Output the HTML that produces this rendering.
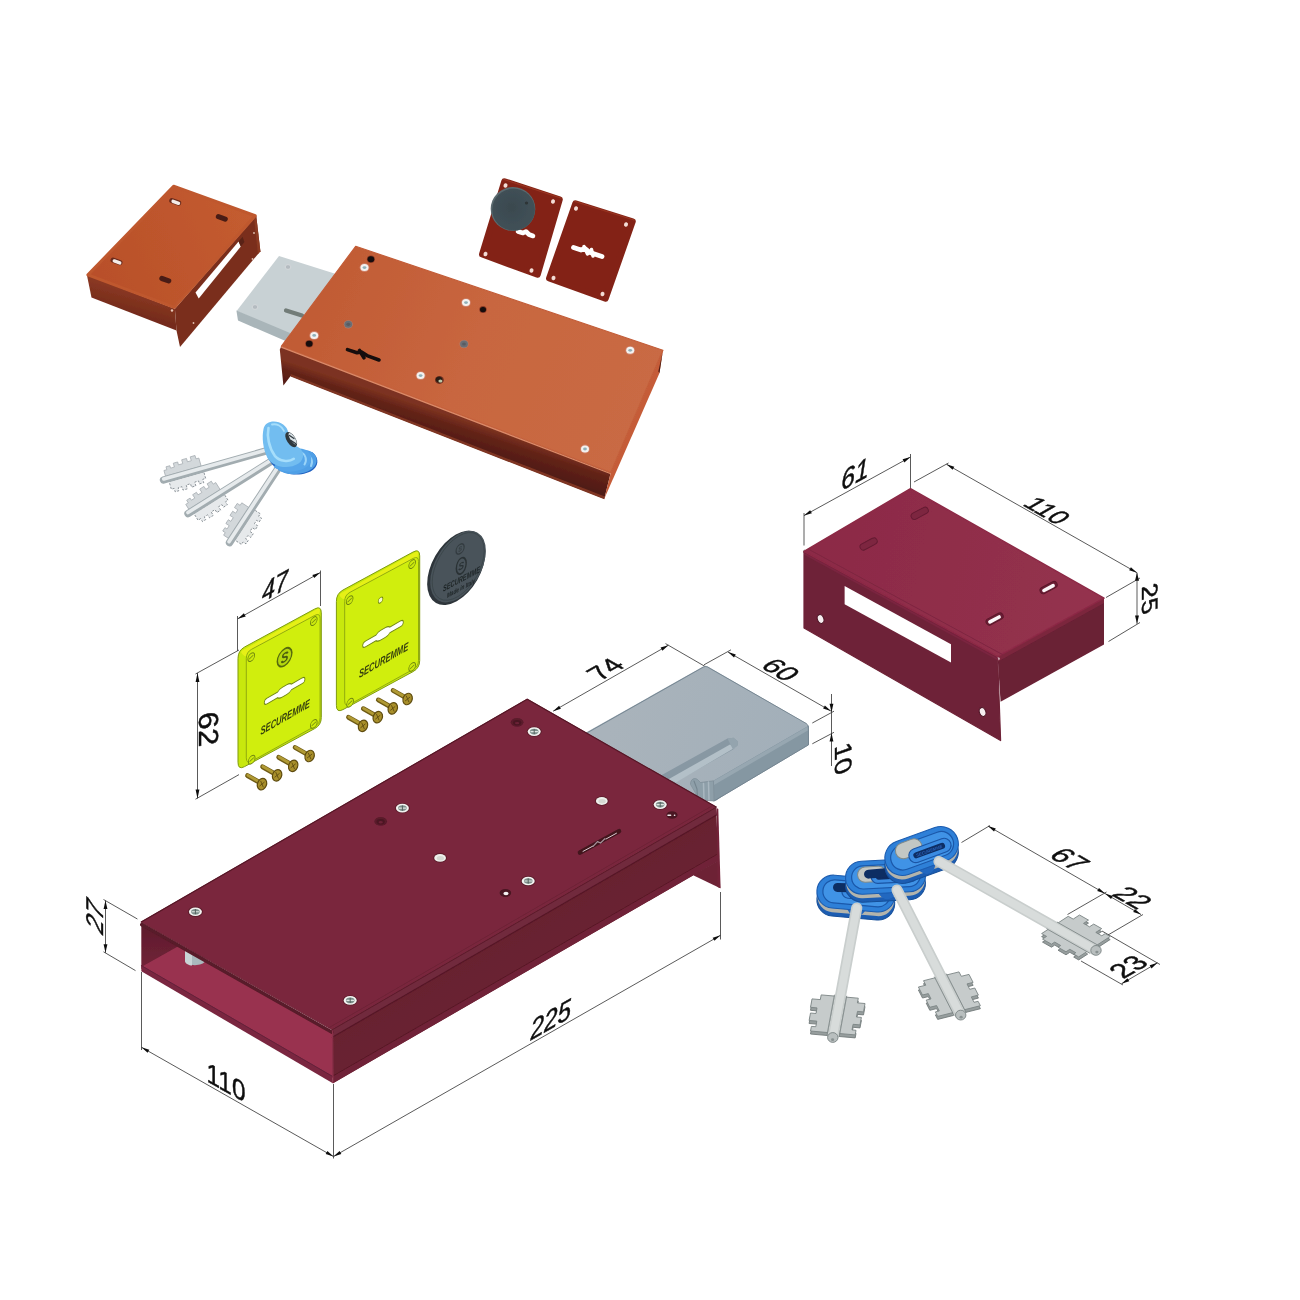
<!DOCTYPE html>
<html lang="it"><head><meta charset="utf-8"><title>Serratura</title>
<style>
html,body{margin:0;padding:0;background:#fff;}
body{width:1300px;height:1300px;overflow:hidden;font-family:"Liberation Sans",sans-serif;}
svg{display:block;}
svg text{font-family:"Liberation Sans",sans-serif;}
</style></head><body>
<svg width="1300" height="1300" viewBox="0 0 1300 1300">
<defs>

<linearGradient id="gOr" gradientUnits="userSpaceOnUse" x1="300" y1="280" x2="640" y2="420"><stop offset="0" stop-color="#c05a33"/><stop offset="0.5" stop-color="#c8663f"/><stop offset="1" stop-color="#c96a44"/></linearGradient>
<linearGradient id="gOrS" gradientUnits="userSpaceOnUse" x1="100" y1="270" x2="250" y2="210"><stop offset="0" stop-color="#b9502a"/><stop offset="1" stop-color="#c45c30"/></linearGradient>
<linearGradient id="gRedS" gradientUnits="userSpaceOnUse" x1="820" y1="540" x2="1090" y2="600"><stop offset="0" stop-color="#8c2a46"/><stop offset="1" stop-color="#94324e"/></linearGradient>
<radialGradient id="gDisc" cx="0.45" cy="0.45" r="0.7"><stop offset="0" stop-color="#3a494f"/><stop offset="1" stop-color="#43535a"/></radialGradient>
<linearGradient id="gBolt" gradientUnits="userSpaceOnUse" x1="620" y1="700" x2="800" y2="760"><stop offset="0" stop-color="#a9b3bb"/><stop offset="1" stop-color="#a2afb9"/></linearGradient>
<linearGradient id="gInner" gradientUnits="userSpaceOnUse" x1="141" y1="925" x2="141" y2="968"><stop offset="0" stop-color="#5e1b2c"/><stop offset="1" stop-color="#712338"/></linearGradient>
<linearGradient id="gFront" gradientUnits="userSpaceOnUse" x1="500" y1="935" x2="527" y2="982"><stop offset="0" stop-color="#67202f"/><stop offset="1" stop-color="#6a2132"/></linearGradient>
<linearGradient id="gOrF" gradientUnits="userSpaceOnUse" x1="440" y1="412" x2="432" y2="436"><stop offset="0" stop-color="#7c3220"/><stop offset="0.35" stop-color="#632318"/><stop offset="1" stop-color="#501a14"/></linearGradient>
<linearGradient id="gOrL" gradientUnits="userSpaceOnUse" x1="130" y1="290" x2="124" y2="312"><stop offset="0" stop-color="#8a3822"/><stop offset="1" stop-color="#742b1b"/></linearGradient>
<filter id="soft" x="-5%" y="-5%" width="110%" height="110%"><feGaussianBlur stdDeviation="0.6"/></filter>
<filter id="soft2" x="-5%" y="-5%" width="110%" height="110%"><feGaussianBlur stdDeviation="0.35"/></filter>

</defs>
<rect width="1300" height="1300" fill="#ffffff"/>
<g id="striker-orange" filter="url(#soft)">
<polygon points="86.9,274.9 174.9,308.8 176.5,330.5 91.5,297.5" fill="url(#gOrL)" stroke="none" stroke-width="0" stroke-linejoin="round" />
<polygon points="174.9,308.8 256.2,215.7 260.4,251.2 180.0,347.0 176.5,330.5" fill="#7a2f1d" stroke="none" stroke-width="0" stroke-linejoin="round" />
<polygon points="256.2,215.7 260.4,251.2 258.0,254.0 254.2,219.0" fill="#8c3a24" stroke="none" stroke-width="0" stroke-linejoin="round" />
<polygon points="173.6,186.2 255.2,215.7 174.4,307.3 87.9,274.9" fill="url(#gOrS)" stroke="#bf582f" stroke-width="3" stroke-linejoin="round" />
<polygon points="195.5,292.6 238.6,241.4 240.8,246.5 198.7,298.6" fill="#ffffff" stroke="none" stroke-width="0" stroke-linejoin="round" />
<polygon points="238.6,241.4 242.5,236.8 244.5,242.0 240.8,246.5" fill="#5a2418" stroke="none" stroke-width="0" stroke-linejoin="round" />
<ellipse cx="254.0" cy="233.0" rx="0.9" ry="0.9" fill="#e0c0b0" stroke="none" stroke-width="0" transform="rotate(0 254.0 233.0)" />
<ellipse cx="252.5" cy="259.0" rx="0.9" ry="0.9" fill="#e0c0b0" stroke="none" stroke-width="0" transform="rotate(0 252.5 259.0)" />
<ellipse cx="193.5" cy="323.0" rx="0.9" ry="0.9" fill="#e0c0b0" stroke="none" stroke-width="0" transform="rotate(0 193.5 323.0)" />
<ellipse cx="172.0" cy="310.5" rx="1.2" ry="1.2" fill="#e8c8b8" stroke="none" stroke-width="0" transform="rotate(0 172.0 310.5)" />
<rect x="169.0" y="199.2" width="12.4" height="5.2" rx="2.6" fill="#6a2a1a" transform="rotate(20 175.2 201.8)"/>
<rect x="171.2" y="200.6" width="9.2" height="3.4" rx="1.7" fill="#f4ece8" transform="rotate(20 175.8 202.3)"/>
<rect x="215.6" y="215.3" width="12.4" height="5.2" rx="2.6" fill="#4a1c12" transform="rotate(20 221.8 217.9)"/>
<rect x="110.3" y="258.8" width="12.4" height="5.2" rx="2.6" fill="#6a2a1a" transform="rotate(20 116.5 261.4)"/>
<rect x="112.4" y="260.2" width="9.2" height="3.4" rx="1.7" fill="#f4ece8" transform="rotate(20 117.0 261.9)"/>
<rect x="159.1" y="277.1" width="12.4" height="5.2" rx="2.6" fill="#4a1c12" transform="rotate(20 165.3 279.7)"/>
</g>
<g id="lock-orange" filter="url(#soft)">
<polygon points="279.0,256.0 336.0,274.0 290.0,334.0 236.6,311.0" fill="#c8d1d4" stroke="none" stroke-width="0" stroke-linejoin="round" />
<polygon points="236.4,310.5 290.0,333.0 289.0,342.5 238.0,320.5" fill="#a9b5b9" stroke="none" stroke-width="0" stroke-linejoin="round" />
<ellipse cx="288.0" cy="267.0" rx="2.8" ry="2.4" fill="#b4bbc0" stroke="#d9dde0" stroke-width="0.8" transform="rotate(0 288.0 267.0)" />
<ellipse cx="255.0" cy="307.0" rx="2.8" ry="2.4" fill="#b4bbc0" stroke="#d9dde0" stroke-width="0.8" transform="rotate(0 255.0 307.0)" />
<path d="M286,310.5 L302,315.5" fill="none" stroke="#727c78" stroke-width="4.2" stroke-linejoin="round" stroke-linecap="round" />
<polygon points="281.3,346.3 610.8,472.5 604.3,498.8 290.6,376.0 283.4,385.4 279.8,349.5" fill="url(#gOrF)" stroke="none" stroke-width="0" stroke-linejoin="round" />
<polygon points="290.6,374.0 604.8,496.6 604.3,499.2 290.6,376.6" fill="#7f3524" stroke="none" stroke-width="0" stroke-linejoin="round" />
<polygon points="610.8,472.5 662.9,350.3 659.5,373.0 604.3,498.8" fill="#c55c38" stroke="none" stroke-width="0" stroke-linejoin="round" />
<polygon points="662.0,355.0 662.9,350.8 659.5,373.0 658.3,371.5" fill="#4e1d14" stroke="none" stroke-width="0" stroke-linejoin="round" />
<polygon points="355.7,246.3 662.9,350.3 610.8,472.5 281.3,346.3" fill="url(#gOr)" stroke="#c35d38" stroke-width="1.2" stroke-linejoin="round" />
<path d="M281.8,347.3 L610.3,473.5" fill="none" stroke="#dc8a68" stroke-width="1.3" stroke-linejoin="round" stroke-linecap="round" />
<ellipse cx="370.9" cy="259.2" rx="4.0" ry="3.7" fill="#8a3a26" stroke="none" stroke-width="0" transform="rotate(0 370.9 259.2)" />
<ellipse cx="370.9" cy="259.2" rx="3.3" ry="3.0" fill="#140b0a" stroke="none" stroke-width="0" transform="rotate(0 370.9 259.2)" />
<ellipse cx="364.5" cy="267.6" rx="4.9" ry="4.4" fill="#d0826a" stroke="none" stroke-width="0" transform="rotate(0 364.5 267.6)" />
<ellipse cx="364.5" cy="267.6" rx="4.0" ry="3.5" fill="#f3f2f0" stroke="none" stroke-width="0" transform="rotate(0 364.5 267.6)" />
<ellipse cx="364.5" cy="267.6" rx="1.9" ry="1.4" fill="#8fb0b8" stroke="none" stroke-width="0" transform="rotate(0 364.5 267.6)" />
<ellipse cx="466.0" cy="302.6" rx="4.9" ry="4.4" fill="#d0826a" stroke="none" stroke-width="0" transform="rotate(0 466.0 302.6)" />
<ellipse cx="466.0" cy="302.6" rx="4.0" ry="3.5" fill="#f3f2f0" stroke="none" stroke-width="0" transform="rotate(0 466.0 302.6)" />
<ellipse cx="466.0" cy="302.6" rx="1.9" ry="1.4" fill="#8fb0b8" stroke="none" stroke-width="0" transform="rotate(0 466.0 302.6)" />
<ellipse cx="483.0" cy="309.6" rx="3.7" ry="3.5" fill="#8a3a26" stroke="none" stroke-width="0" transform="rotate(0 483.0 309.6)" />
<ellipse cx="483.0" cy="309.6" rx="3.0" ry="2.7" fill="#140b0a" stroke="none" stroke-width="0" transform="rotate(0 483.0 309.6)" />
<ellipse cx="348.3" cy="324.3" rx="4.5" ry="4.1" fill="#b08070" stroke="none" stroke-width="0" transform="rotate(0 348.3 324.3)" />
<ellipse cx="348.3" cy="324.3" rx="3.9" ry="3.5" fill="#6a6e74" stroke="none" stroke-width="0" transform="rotate(0 348.3 324.3)" />
<ellipse cx="348.3" cy="324.3" rx="1.9" ry="1.6" fill="#585c62" stroke="none" stroke-width="0" transform="rotate(0 348.3 324.3)" />
<ellipse cx="314.2" cy="335.4" rx="4.9" ry="4.4" fill="#d0826a" stroke="none" stroke-width="0" transform="rotate(0 314.2 335.4)" />
<ellipse cx="314.2" cy="335.4" rx="4.0" ry="3.5" fill="#f3f2f0" stroke="none" stroke-width="0" transform="rotate(0 314.2 335.4)" />
<ellipse cx="314.2" cy="335.4" rx="1.9" ry="1.4" fill="#8fb0b8" stroke="none" stroke-width="0" transform="rotate(0 314.2 335.4)" />
<ellipse cx="309.2" cy="343.7" rx="4.0" ry="3.7" fill="#8a3a26" stroke="none" stroke-width="0" transform="rotate(0 309.2 343.7)" />
<ellipse cx="309.2" cy="343.7" rx="3.3" ry="3.0" fill="#140b0a" stroke="none" stroke-width="0" transform="rotate(0 309.2 343.7)" />
<ellipse cx="464.0" cy="344.0" rx="4.5" ry="4.1" fill="#b08070" stroke="none" stroke-width="0" transform="rotate(0 464.0 344.0)" />
<ellipse cx="464.0" cy="344.0" rx="3.9" ry="3.5" fill="#6a6e74" stroke="none" stroke-width="0" transform="rotate(0 464.0 344.0)" />
<ellipse cx="464.0" cy="344.0" rx="1.9" ry="1.6" fill="#585c62" stroke="none" stroke-width="0" transform="rotate(0 464.0 344.0)" />
<ellipse cx="420.6" cy="375.6" rx="4.9" ry="4.4" fill="#d0826a" stroke="none" stroke-width="0" transform="rotate(0 420.6 375.6)" />
<ellipse cx="420.6" cy="375.6" rx="4.0" ry="3.5" fill="#f3f2f0" stroke="none" stroke-width="0" transform="rotate(0 420.6 375.6)" />
<ellipse cx="420.6" cy="375.6" rx="1.9" ry="1.4" fill="#8fb0b8" stroke="none" stroke-width="0" transform="rotate(0 420.6 375.6)" />
<ellipse cx="630.2" cy="350.3" rx="4.9" ry="4.4" fill="#d0826a" stroke="none" stroke-width="0" transform="rotate(0 630.2 350.3)" />
<ellipse cx="630.2" cy="350.3" rx="4.0" ry="3.5" fill="#f3f2f0" stroke="none" stroke-width="0" transform="rotate(0 630.2 350.3)" />
<ellipse cx="630.2" cy="350.3" rx="1.9" ry="1.4" fill="#8fb0b8" stroke="none" stroke-width="0" transform="rotate(0 630.2 350.3)" />
<ellipse cx="585.0" cy="449.0" rx="4.9" ry="4.4" fill="#d0826a" stroke="none" stroke-width="0" transform="rotate(0 585.0 449.0)" />
<ellipse cx="585.0" cy="449.0" rx="4.0" ry="3.5" fill="#f3f2f0" stroke="none" stroke-width="0" transform="rotate(0 585.0 449.0)" />
<ellipse cx="585.0" cy="449.0" rx="1.9" ry="1.4" fill="#8fb0b8" stroke="none" stroke-width="0" transform="rotate(0 585.0 449.0)" />
<ellipse cx="439.4" cy="380.0" rx="4.4" ry="3.9" fill="#6a3020" stroke="none" stroke-width="0" transform="rotate(0 439.4 380.0)" />
<ellipse cx="439.0" cy="379.6" rx="3.2" ry="2.8" fill="#2a1a12" stroke="none" stroke-width="0" transform="rotate(0 439.0 379.6)" />
<ellipse cx="440.4" cy="381.0" rx="2.0" ry="1.6" fill="#b9c7a8" stroke="none" stroke-width="0" transform="rotate(0 440.4 381.0)" />
<path d="M347.5,349.6 L357,352.8 L361.5,352 L367,355.6 L379,360" fill="none" stroke="#160d0c" stroke-width="3.6" stroke-linejoin="round" stroke-linecap="round" />
<path d="M359.5,350.5 L364,357.8" fill="none" stroke="#160d0c" stroke-width="3.6" stroke-linejoin="round" stroke-linecap="round" />
</g>
<g id="escutcheons" filter="url(#soft)">
<polygon points="504.5,181.5 559.5,199.5 537.5,274.5 482.3,254.3" fill="#832416" stroke="#832416" stroke-width="6.5" stroke-linejoin="round" />
<polygon points="575.5,203.5 632.5,221.5 605.5,298.5 549.3,278.3" fill="#832416" stroke="#832416" stroke-width="6.5" stroke-linejoin="round" />
<polygon points="504.0,179.5 561.0,198.0" fill="none" stroke="#9a3422" stroke-width="1.2" stroke-linejoin="round" />
<polygon points="575.0,201.5 634.0,220.0" fill="none" stroke="#9a3422" stroke-width="1.2" stroke-linejoin="round" />
<ellipse cx="505.5" cy="185.5" rx="2.0" ry="2.3" fill="#f3dcd6" stroke="none" stroke-width="0" transform="rotate(15 505.5 185.5)" />
<ellipse cx="553.0" cy="201.5" rx="2.0" ry="2.3" fill="#f3dcd6" stroke="none" stroke-width="0" transform="rotate(15 553.0 201.5)" />
<ellipse cx="485.5" cy="254.0" rx="2.0" ry="2.3" fill="#f3dcd6" stroke="none" stroke-width="0" transform="rotate(15 485.5 254.0)" />
<ellipse cx="531.5" cy="270.5" rx="2.0" ry="2.3" fill="#f3dcd6" stroke="none" stroke-width="0" transform="rotate(15 531.5 270.5)" />
<ellipse cx="576.0" cy="208.5" rx="2.0" ry="2.3" fill="#f3dcd6" stroke="none" stroke-width="0" transform="rotate(15 576.0 208.5)" />
<ellipse cx="626.0" cy="224.5" rx="2.0" ry="2.3" fill="#f3dcd6" stroke="none" stroke-width="0" transform="rotate(15 626.0 224.5)" />
<ellipse cx="553.5" cy="278.0" rx="2.0" ry="2.3" fill="#f3dcd6" stroke="none" stroke-width="0" transform="rotate(15 553.5 278.0)" />
<ellipse cx="602.5" cy="294.0" rx="2.0" ry="2.3" fill="#f3dcd6" stroke="none" stroke-width="0" transform="rotate(15 602.5 294.0)" />
<path d="M518,231.5 L523,233 L526,231.5 L529,234.5 L533,236" fill="none" stroke="#ffffff" stroke-width="4.6" stroke-linejoin="round" stroke-linecap="round" />
<path d="M573.5,247.5 L581,250 L585,248.5 L590,252.5 L602,256.5" fill="none" stroke="#ffffff" stroke-width="4.8" stroke-linejoin="round" stroke-linecap="round" />
<path d="M584,246.5 L587.5,254 M591.5,249.5 L593,256" fill="none" stroke="#ffffff" stroke-width="3.4" stroke-linejoin="round" stroke-linecap="round" />
<ellipse cx="513.0" cy="209.0" rx="22.3" ry="21.9" fill="#5b6b70" stroke="none" stroke-width="0" transform="rotate(0 513.0 209.0)" />
<ellipse cx="513.6" cy="209.6" rx="21.4" ry="21.0" fill="url(#gDisc)" stroke="none" stroke-width="0" transform="rotate(0 513.6 209.6)" />
<ellipse cx="526.5" cy="203.0" rx="1.6" ry="1.6" fill="#2e3436" stroke="none" stroke-width="0" transform="rotate(0 526.5 203.0)" />
</g>
<g id="keys-small" filter="url(#soft)">
<g transform="translate(163.5 480.0) rotate(-15.8)">
<path d="M3,-3 L3,-9 L6,-9 L6,-12 L10,-12 L10,-9.5 L14,-9.5 L14,-13.5 L18.5,-13.5 L18.5,-10.5 L23,-10.5 L23,-14.5 L28,-14.5 L28,-11 L32,-11 L32,-15 L37,-15 L37,-11.5 L40,-11.5 L40,-3 Z" fill="#d3d8db" stroke="#a3aaaf" stroke-width="0.7"/>
<path d="M5,3 L41,3 L41,10 L38,10 L38,13.5 L33.5,13.5 L33.5,10.5 L29.5,10.5 L29.5,14.5 L25,14.5 L25,11 L20.5,11 L20.5,15 L16,15 L16,11.5 L12,11.5 L12,14.5 L8,14.5 L8,11 L5,11 Z" fill="#e6e9eb" stroke="#7d858b" stroke-width="0.8" stroke-dasharray="2.2 1.5"/>
<path d="M0,0 L108.6,0" stroke="#a2acb0" stroke-width="7.4" stroke-linecap="round" fill="none"/>
<path d="M0.5,-0.9 L108.6,-0.9" stroke="#e6eaec" stroke-width="3.6" stroke-linecap="round" fill="none"/>
</g>
<g transform="translate(188.0 513.6) rotate(-32.2)">
<path d="M3,-3 L3,-9 L6,-9 L6,-12 L10,-12 L10,-9.5 L14,-9.5 L14,-13.5 L18.5,-13.5 L18.5,-10.5 L23,-10.5 L23,-14.5 L28,-14.5 L28,-11 L32,-11 L32,-15 L37,-15 L37,-11.5 L40,-11.5 L40,-3 Z" fill="#d3d8db" stroke="#a3aaaf" stroke-width="0.7"/>
<path d="M5,3 L41,3 L41,10 L38,10 L38,13.5 L33.5,13.5 L33.5,10.5 L29.5,10.5 L29.5,14.5 L25,14.5 L25,11 L20.5,11 L20.5,15 L16,15 L16,11.5 L12,11.5 L12,14.5 L8,14.5 L8,11 L5,11 Z" fill="#e6e9eb" stroke="#7d858b" stroke-width="0.8" stroke-dasharray="2.2 1.5"/>
<path d="M0,0 L100.5,0" stroke="#a2acb0" stroke-width="7.4" stroke-linecap="round" fill="none"/>
<path d="M0.5,-0.9 L100.5,-0.9" stroke="#e6eaec" stroke-width="3.6" stroke-linecap="round" fill="none"/>
</g>
<g transform="translate(229.5 542.6) rotate(-56.8)">
<path d="M3,-3 L3,-9 L6,-9 L6,-12 L10,-12 L10,-9.5 L14,-9.5 L14,-13.5 L18.5,-13.5 L18.5,-10.5 L23,-10.5 L23,-14.5 L28,-14.5 L28,-11 L32,-11 L32,-15 L37,-15 L37,-11.5 L40,-11.5 L40,-3 Z" fill="#d3d8db" stroke="#a3aaaf" stroke-width="0.7"/>
<path d="M5,3 L41,3 L41,10 L38,10 L38,13.5 L33.5,13.5 L33.5,10.5 L29.5,10.5 L29.5,14.5 L25,14.5 L25,11 L20.5,11 L20.5,15 L16,15 L16,11.5 L12,11.5 L12,14.5 L8,14.5 L8,11 L5,11 Z" fill="#e6e9eb" stroke="#7d858b" stroke-width="0.8" stroke-dasharray="2.2 1.5"/>
<path d="M0,0 L90.4,0" stroke="#a2acb0" stroke-width="7.4" stroke-linecap="round" fill="none"/>
<path d="M0.5,-0.9 L90.4,-0.9" stroke="#e6eaec" stroke-width="3.6" stroke-linecap="round" fill="none"/>
</g>
<path d="M266,452 C268,462 276,470 286,473 C296,476 308,474.5 314,469 C319.5,464 318,456 312,452 L300,462 Z" fill="#2263c2" stroke="none" stroke-width="0" stroke-linejoin="round" stroke-linecap="round" />
<path d="M278,470 C288,476.5 304,475 312.5,468.5 C319,463 317.5,454.5 310.5,451.2 C304,448.6 297.5,450.5 292,454.5 Z" fill="#4f9fe6" stroke="none" stroke-width="0" stroke-linejoin="round" stroke-linecap="round" />
<path d="M306,453.5 C311,456 313.5,461 311,466" fill="none" stroke="#9ad4f8" stroke-width="2.0" stroke-linejoin="round" stroke-linecap="round" />
<path d="M273.5,467 C282.5,473.5 298.5,473 307,466.5 C313.5,461.5 312,453 305.5,449.8 C298.5,447 292,449 286.5,452.5 Z" fill="#56a6ea" stroke="none" stroke-width="0" stroke-linejoin="round" stroke-linecap="round" />
<path d="M300.5,451.5 C305.5,454.5 307.5,459.5 304.5,464.5" fill="none" stroke="#9ad4f8" stroke-width="2.0" stroke-linejoin="round" stroke-linecap="round" />
<path d="M263.5,429 C261.8,437 262.8,448.5 267.5,458 C273.5,468 289,469.5 298.5,463.5 C305,459 304.5,450.5 298,447 C292.5,444.5 289.5,440 288.5,433 C287,425 279.5,420.8 272,421.6 C267,422.4 264.5,425 263.5,429 Z" fill="#72bdf0" stroke="none" stroke-width="0" stroke-linejoin="round" stroke-linecap="round" />
<path d="M268.5,428 C266.8,436 268.8,447.5 274.8,455.8 C279.8,461.5 288.8,462.5 293.8,458.8" fill="none" stroke="#a6defb" stroke-width="2.6" stroke-linejoin="round" stroke-linecap="round" />
<path d="M272,424.5 C277,423.5 282,426 284,431" fill="none" stroke="#a6defb" stroke-width="1.8" stroke-linejoin="round" stroke-linecap="round" />
<ellipse cx="291.2" cy="439.6" rx="4.4" ry="8.6" fill="#2f383e" stroke="none" stroke-width="0" transform="rotate(-33 291.2 439.6)" />
<ellipse cx="292.6" cy="438.6" rx="2.3" ry="6.6" fill="#d9e2e6" stroke="none" stroke-width="0" transform="rotate(-33 292.6 438.6)" />
<path d="M289.5,435.5 L294,438.5 M291,440.5 L295.5,443.5" fill="none" stroke="#2f383e" stroke-width="1.3" stroke-linejoin="round" stroke-linecap="round" />
</g>
<g id="plates" filter="url(#soft2)">
<line x1="237.5" y1="651.0" x2="237.5" y2="616.0" stroke="#3c3c3c" stroke-width="0.85" />
<line x1="320.5" y1="606.0" x2="320.5" y2="570.5" stroke="#3c3c3c" stroke-width="0.85" />
<line x1="237.8" y1="618.8" x2="320.3" y2="572.6" stroke="#3c3c3c" stroke-width="0.85" />
<polygon points="237.8,618.8 243.9,613.3 245.7,616.5" fill="#111" stroke="none" stroke-width="0" stroke-linejoin="round" />
<polygon points="320.3,572.6 314.2,578.1 312.4,574.9" fill="#111" stroke="none" stroke-width="0" stroke-linejoin="round" />
<text transform="matrix(0.8746 -0.4848 -0.0000 1.0000 275.0 585.4)" font-size="27" text-anchor="middle" fill="#0c0c0c" font-style="italic" dy="9.7" stroke="#0c0c0c" stroke-width="0.45">47</text>
<line x1="239.0" y1="650.0" x2="195.5" y2="674.0" stroke="#3c3c3c" stroke-width="0.85" />
<line x1="239.0" y1="774.6" x2="195.5" y2="799.2" stroke="#3c3c3c" stroke-width="0.85" />
<line x1="197.5" y1="673.0" x2="197.5" y2="798.4" stroke="#3c3c3c" stroke-width="0.85" />
<polygon points="197.5,673.0 199.4,682.0 195.6,682.0" fill="#111" stroke="none" stroke-width="0" stroke-linejoin="round" />
<polygon points="197.5,798.4 195.6,789.4 199.4,789.4" fill="#111" stroke="none" stroke-width="0" stroke-linejoin="round" />
<text transform="matrix(0.0000 1.1000 -0.9848 0.1736 209.2 728.8)" font-size="28" text-anchor="middle" fill="#0c0c0c" font-style="normal" dy="10.0" stroke="#0c0c0c" stroke-width="0.45">62</text>
<path d="M238.0,658.1 Q238.0,650.6 244.6,647.0 L314.7,609.0 Q321.3,605.4 321.3,612.9 L321.3,717.5 Q321.3,725.0 314.7,728.6 L244.6,766.6 Q238.0,770.2 238.0,762.7 Z" fill="#c8e80c" stroke="#7f9a0c" stroke-width="1.0" stroke-linejoin="round" stroke-linecap="round" />
<path d="M242.2,653.9 Q240.0,651.8 242.6,650.3 L317.2,609.1 Q319.8,607.6 319.8,610.6 L319.8,610.9 Q319.8,613.9 317.2,615.4 L248.1,655.6 Q245.5,657.1 243.3,655.0 Z" fill="#e6f018" stroke="none" stroke-width="0" stroke-linejoin="round" stroke-linecap="round" />
<path d="M246.3,658.1 Q246.3,652.1 251.6,649.3 L314.8,615.4 Q320.1,612.6 320.1,618.6 L320.1,717.4 Q320.1,723.4 314.8,726.3 L251.6,761.3 Q246.3,764.2 246.3,758.2 Z" fill="#d0ee10" stroke="#8aa40e" stroke-width="0.9" stroke-linejoin="round" stroke-linecap="round" />
<g transform="matrix(0.866 -0.5 0 1 238.0 650.6)">
<circle cx="15.3" cy="14.2" r="3.9" fill="#cdea10" stroke="#6f8610" stroke-width="1.0"/>
<path d="M12.9,15.0 L17.7,13.399999999999999" stroke="#6f8610" stroke-width="0.9" fill="none"/>
<circle cx="87.5" cy="14.2" r="3.9" fill="#cdea10" stroke="#6f8610" stroke-width="1.0"/>
<path d="M85.1,15.0 L89.9,13.399999999999999" stroke="#6f8610" stroke-width="0.9" fill="none"/>
<circle cx="15.8" cy="117.0" r="3.9" fill="#cdea10" stroke="#6f8610" stroke-width="1.0"/>
<path d="M13.4,117.8 L18.2,116.2" stroke="#6f8610" stroke-width="0.9" fill="none"/>
<circle cx="87.5" cy="117.0" r="3.9" fill="#cdea10" stroke="#6f8610" stroke-width="1.0"/>
<path d="M85.1,117.8 L89.9,116.2" stroke="#6f8610" stroke-width="0.9" fill="none"/>
<path transform="translate(53.8 67.2)" d="M-23.5,0 C-23.5,-2.6 -22,-2.8 -20,-2.8 L-8,-2.8 C-6.8,-4.2 -4.5,-4.9 -2.5,-4.9 L2.5,-4.9 C4.5,-4.9 6.8,-4.2 8,-2.8 L20,-2.8 C22,-2.8 23.5,-2.6 23.5,0 C23.5,2.6 22,2.8 20,2.8 L8,2.8 C6.8,4.2 4.5,4.9 2.5,4.9 L-2.5,4.9 C-4.5,4.9 -6.8,4.2 -8,2.8 L-20,2.8 C-22,2.8 -23.5,2.6 -23.5,0 Z" fill="#ffffff" stroke="#6f8610" stroke-width="1.0"/>
<text x="54.5" y="97.7" font-size="11.4" font-weight="bold" font-style="italic" text-anchor="middle" fill="#364008" textLength="57" lengthAdjust="spacingAndGlyphs">SECUREMME</text>
<circle cx="53.8" cy="33.5" r="8.4" fill="#b4d808" stroke="#566a0c" stroke-width="1.7"/>
<text x="53.8" y="38.3" font-size="13.5" font-weight="bold" font-style="italic" text-anchor="middle" fill="#4a5c0a">S</text>
</g>
<path d="M336.4,601.1 Q336.4,593.6 343.0,590.0 L413.1,552.0 Q419.7,548.4 419.7,555.9 L419.7,660.5 Q419.7,668.0 413.1,671.6 L343.0,709.6 Q336.4,713.2 336.4,705.7 Z" fill="#c8e80c" stroke="#7f9a0c" stroke-width="1.0" stroke-linejoin="round" stroke-linecap="round" />
<path d="M340.6,596.9 Q338.4,594.8 341.0,593.3 L415.6,552.1 Q418.2,550.6 418.2,553.6 L418.2,553.9 Q418.2,556.9 415.6,558.4 L346.5,598.6 Q343.9,600.1 341.7,598.0 Z" fill="#e6f018" stroke="none" stroke-width="0" stroke-linejoin="round" stroke-linecap="round" />
<path d="M344.7,601.1 Q344.7,595.1 350.0,592.3 L413.2,558.4 Q418.5,555.6 418.5,561.6 L418.5,660.4 Q418.5,666.4 413.2,669.3 L350.0,704.3 Q344.7,707.2 344.7,701.2 Z" fill="#d0ee10" stroke="#8aa40e" stroke-width="0.9" stroke-linejoin="round" stroke-linecap="round" />
<g transform="matrix(0.866 -0.5 0 1 336.4 593.6)">
<circle cx="15.3" cy="14.2" r="3.9" fill="#cdea10" stroke="#6f8610" stroke-width="1.0"/>
<path d="M12.9,15.0 L17.7,13.399999999999999" stroke="#6f8610" stroke-width="0.9" fill="none"/>
<circle cx="87.5" cy="14.2" r="3.9" fill="#cdea10" stroke="#6f8610" stroke-width="1.0"/>
<path d="M85.1,15.0 L89.9,13.399999999999999" stroke="#6f8610" stroke-width="0.9" fill="none"/>
<circle cx="15.8" cy="117.0" r="3.9" fill="#cdea10" stroke="#6f8610" stroke-width="1.0"/>
<path d="M13.4,117.8 L18.2,116.2" stroke="#6f8610" stroke-width="0.9" fill="none"/>
<circle cx="87.5" cy="117.0" r="3.9" fill="#cdea10" stroke="#6f8610" stroke-width="1.0"/>
<path d="M85.1,117.8 L89.9,116.2" stroke="#6f8610" stroke-width="0.9" fill="none"/>
<path transform="translate(53.8 67.2)" d="M-23.5,0 C-23.5,-2.6 -22,-2.8 -20,-2.8 L-8,-2.8 C-6.8,-4.2 -4.5,-4.9 -2.5,-4.9 L2.5,-4.9 C4.5,-4.9 6.8,-4.2 8,-2.8 L20,-2.8 C22,-2.8 23.5,-2.6 23.5,0 C23.5,2.6 22,2.8 20,2.8 L8,2.8 C6.8,4.2 4.5,4.9 2.5,4.9 L-2.5,4.9 C-4.5,4.9 -6.8,4.2 -8,2.8 L-20,2.8 C-22,2.8 -23.5,2.6 -23.5,0 Z" fill="#ffffff" stroke="#6f8610" stroke-width="1.0"/>
<text x="54.5" y="97.7" font-size="11.4" font-weight="bold" font-style="italic" text-anchor="middle" fill="#364008" textLength="57" lengthAdjust="spacingAndGlyphs">SECUREMME</text>
<circle cx="51" cy="32" r="2.7" fill="#f4fad0" stroke="#6f8610" stroke-width="0.9"/>
</g>
<path d="M259.0,782.1 L247.5,775.6" fill="none" stroke="#6e5a14" stroke-width="4.8" stroke-linejoin="round" stroke-linecap="round" />
<path d="M259.0,781.8 L247.8,775.3" fill="none" stroke="#b09a34" stroke-width="2.8" stroke-linejoin="round" stroke-linecap="round" />
<ellipse cx="262.0" cy="784.1" rx="4.5" ry="5.9" fill="#a88f2c" stroke="#5f4c10" stroke-width="1.2" transform="rotate(22 262.0 784.1)" />
<path d="M259.8,785.9 L264.2,782.3 M260.8,781.3 L263.2,786.9" fill="none" stroke="#5f4c10" stroke-width="0.9" stroke-linejoin="round" stroke-linecap="round" />
<path d="M274.1,773.3 L262.6,766.8" fill="none" stroke="#6e5a14" stroke-width="4.8" stroke-linejoin="round" stroke-linecap="round" />
<path d="M274.1,773.0 L262.9,766.5" fill="none" stroke="#b09a34" stroke-width="2.8" stroke-linejoin="round" stroke-linecap="round" />
<ellipse cx="277.1" cy="775.3" rx="4.5" ry="5.9" fill="#a88f2c" stroke="#5f4c10" stroke-width="1.2" transform="rotate(22 277.1 775.3)" />
<path d="M274.9,777.1 L279.3,773.5 M275.9,772.5 L278.3,778.1" fill="none" stroke="#5f4c10" stroke-width="0.9" stroke-linejoin="round" stroke-linecap="round" />
<path d="M290.2,763.8 L278.7,757.3" fill="none" stroke="#6e5a14" stroke-width="4.8" stroke-linejoin="round" stroke-linecap="round" />
<path d="M290.2,763.5 L279.0,757.0" fill="none" stroke="#b09a34" stroke-width="2.8" stroke-linejoin="round" stroke-linecap="round" />
<ellipse cx="293.2" cy="765.8" rx="4.5" ry="5.9" fill="#a88f2c" stroke="#5f4c10" stroke-width="1.2" transform="rotate(22 293.2 765.8)" />
<path d="M291.0,767.6 L295.4,764.0 M292.0,763.0 L294.4,768.6" fill="none" stroke="#5f4c10" stroke-width="0.9" stroke-linejoin="round" stroke-linecap="round" />
<path d="M306.6,754.0 L295.1,747.5" fill="none" stroke="#6e5a14" stroke-width="4.8" stroke-linejoin="round" stroke-linecap="round" />
<path d="M306.6,753.7 L295.4,747.2" fill="none" stroke="#b09a34" stroke-width="2.8" stroke-linejoin="round" stroke-linecap="round" />
<ellipse cx="309.6" cy="756.0" rx="4.5" ry="5.9" fill="#a88f2c" stroke="#5f4c10" stroke-width="1.2" transform="rotate(22 309.6 756.0)" />
<path d="M307.4,757.8 L311.8,754.2 M308.4,753.2 L310.8,758.8" fill="none" stroke="#5f4c10" stroke-width="0.9" stroke-linejoin="round" stroke-linecap="round" />
<path d="M360.0,723.8 L348.5,717.3" fill="none" stroke="#6e5a14" stroke-width="4.8" stroke-linejoin="round" stroke-linecap="round" />
<path d="M360.0,723.5 L348.8,717.0" fill="none" stroke="#b09a34" stroke-width="2.8" stroke-linejoin="round" stroke-linecap="round" />
<ellipse cx="363.0" cy="725.8" rx="4.5" ry="5.9" fill="#a88f2c" stroke="#5f4c10" stroke-width="1.2" transform="rotate(22 363.0 725.8)" />
<path d="M360.8,727.6 L365.2,724.0 M361.8,723.0 L364.2,728.6" fill="none" stroke="#5f4c10" stroke-width="0.9" stroke-linejoin="round" stroke-linecap="round" />
<path d="M374.8,715.2 L363.3,708.7" fill="none" stroke="#6e5a14" stroke-width="4.8" stroke-linejoin="round" stroke-linecap="round" />
<path d="M374.8,714.9 L363.6,708.4" fill="none" stroke="#b09a34" stroke-width="2.8" stroke-linejoin="round" stroke-linecap="round" />
<ellipse cx="377.8" cy="717.2" rx="4.5" ry="5.9" fill="#a88f2c" stroke="#5f4c10" stroke-width="1.2" transform="rotate(22 377.8 717.2)" />
<path d="M375.6,719.0 L380.0,715.4 M376.6,714.4 L379.0,720.0" fill="none" stroke="#5f4c10" stroke-width="0.9" stroke-linejoin="round" stroke-linecap="round" />
<path d="M389.8,706.4 L378.3,699.9" fill="none" stroke="#6e5a14" stroke-width="4.8" stroke-linejoin="round" stroke-linecap="round" />
<path d="M389.8,706.1 L378.6,699.6" fill="none" stroke="#b09a34" stroke-width="2.8" stroke-linejoin="round" stroke-linecap="round" />
<ellipse cx="392.8" cy="708.4" rx="4.5" ry="5.9" fill="#a88f2c" stroke="#5f4c10" stroke-width="1.2" transform="rotate(22 392.8 708.4)" />
<path d="M390.6,710.2 L395.0,706.6 M391.6,705.6 L394.0,711.2" fill="none" stroke="#5f4c10" stroke-width="0.9" stroke-linejoin="round" stroke-linecap="round" />
<path d="M404.6,697.0 L393.1,690.5" fill="none" stroke="#6e5a14" stroke-width="4.8" stroke-linejoin="round" stroke-linecap="round" />
<path d="M404.6,696.7 L393.4,690.2" fill="none" stroke="#b09a34" stroke-width="2.8" stroke-linejoin="round" stroke-linecap="round" />
<ellipse cx="407.6" cy="699.0" rx="4.5" ry="5.9" fill="#a88f2c" stroke="#5f4c10" stroke-width="1.2" transform="rotate(22 407.6 699.0)" />
<path d="M405.4,700.8 L409.8,697.2 M406.4,696.2 L408.8,701.8" fill="none" stroke="#5f4c10" stroke-width="0.9" stroke-linejoin="round" stroke-linecap="round" />
<ellipse cx="456.3" cy="567.9" rx="24.2" ry="40.6" fill="#2f363a" stroke="none" stroke-width="0" transform="rotate(30 456.3 567.9)" />
<ellipse cx="458.0" cy="566.6" rx="22.8" ry="39.2" fill="#48535a" stroke="none" stroke-width="0" transform="rotate(30 458.0 566.6)" />
<ellipse cx="458.2" cy="566.4" rx="21.0" ry="37.2" fill="none" stroke="#3a4449" stroke-width="0.8" transform="rotate(30 458.2 566.4)" />
<g transform="matrix(0.88 -0.47 0 1 461 566)">
<circle cx="-1" cy="-17.5" r="4.6" fill="none" stroke="#343c40" stroke-width="1.4"/>
<text x="-1" y="-15.3" font-size="6.5" font-weight="bold" font-style="italic" text-anchor="middle" fill="#343c40">S</text>
<ellipse cx="0.3" cy="0" rx="5.6" ry="7.8" fill="none" stroke="#2b3235" stroke-width="1.6"/>
<text x="0.3" y="3.6" font-size="10" font-weight="bold" font-style="italic" text-anchor="middle" fill="#2b3235">S</text>
<text x="0.5" y="16.2" font-size="8.6" font-weight="bold" font-style="italic" text-anchor="middle" fill="#1e2426" textLength="42" lengthAdjust="spacingAndGlyphs">SECUREMME</text>
<text x="0" y="24.4" font-size="6.6" font-weight="bold" font-style="italic" text-anchor="middle" fill="#1e2426" textLength="32" lengthAdjust="spacingAndGlyphs">Made in Italy</text>
</g>
</g>
<g id="lock-red" filter="url(#soft2)">
<line x1="137.4" y1="919.0" x2="103.5" y2="899.5" stroke="#3c3c3c" stroke-width="0.85" />
<line x1="135.5" y1="970.6" x2="103.5" y2="951.8" stroke="#3c3c3c" stroke-width="0.85" />
<line x1="105.5" y1="900.5" x2="105.5" y2="952.8" stroke="#3c3c3c" stroke-width="0.85" />
<polygon points="105.5,900.5 107.4,909.0 103.6,909.0" fill="#111" stroke="none" stroke-width="0" stroke-linejoin="round" />
<polygon points="105.5,952.8 103.6,944.3 107.4,944.3" fill="#111" stroke="none" stroke-width="0" stroke-linejoin="round" />
<text transform="matrix(0.0000 -0.9200 0.8660 0.5000 94.3 916.1)" font-size="28" text-anchor="middle" fill="#0c0c0c" font-style="italic" dy="10.0" stroke="#0c0c0c" stroke-width="0.45">27</text>
<line x1="141.5" y1="972.0" x2="141.5" y2="1050.0" stroke="#3c3c3c" stroke-width="0.85" />
<line x1="333.5" y1="1084.0" x2="333.5" y2="1158.5" stroke="#3c3c3c" stroke-width="0.85" />
<line x1="141.5" y1="1047.3" x2="333.5" y2="1156.5" stroke="#3c3c3c" stroke-width="0.85" />
<polygon points="141.5,1047.3 149.3,1049.7 147.6,1052.8" fill="#111" stroke="none" stroke-width="0" stroke-linejoin="round" />
<polygon points="333.5,1156.5 325.7,1154.1 327.4,1151.0" fill="#111" stroke="none" stroke-width="0" stroke-linejoin="round" />
<text transform="matrix(0.8704 0.4924 -0.0000 1.0000 226.0 1082.0)" font-size="28" text-anchor="middle" fill="#0c0c0c" font-style="normal" dy="10.0" stroke="#0c0c0c" stroke-width="0.45">110</text>
<line x1="720.5" y1="892.0" x2="720.5" y2="939.5" stroke="#3c3c3c" stroke-width="0.85" />
<line x1="333.5" y1="1156.5" x2="720.5" y2="935.3" stroke="#3c3c3c" stroke-width="0.85" />
<polygon points="333.5,1156.5 339.6,1151.0 341.3,1154.1" fill="#111" stroke="none" stroke-width="0" stroke-linejoin="round" />
<polygon points="720.5,935.3 714.4,940.8 712.7,937.7" fill="#111" stroke="none" stroke-width="0" stroke-linejoin="round" />
<text transform="matrix(0.8686 -0.4955 -0.0000 1.0000 550.8 1018.9)" font-size="28" text-anchor="middle" fill="#0c0c0c" font-style="italic" dy="10.0" stroke="#0c0c0c" stroke-width="0.45">225</text>
<line x1="553.1" y1="711.2" x2="668.4" y2="645.2" stroke="#3c3c3c" stroke-width="0.85" />
<polygon points="553.1,711.2 559.1,705.7 560.9,708.8" fill="#111" stroke="none" stroke-width="0" stroke-linejoin="round" />
<polygon points="668.4,645.2 662.4,650.7 660.6,647.6" fill="#111" stroke="none" stroke-width="0" stroke-linejoin="round" />
<line x1="706.0" y1="667.0" x2="665.5" y2="643.6" stroke="#3c3c3c" stroke-width="0.85" />
<text transform="matrix(0.8660 -0.5000 0.8660 0.5000 605.2 669.0)" font-size="27" text-anchor="middle" fill="#0c0c0c" font-style="normal" dy="9.7" stroke="#0c0c0c" stroke-width="0.45">74</text>
<line x1="704.0" y1="664.8" x2="731.0" y2="649.8" stroke="#3c3c3c" stroke-width="0.85" />
<line x1="728.0" y1="652.0" x2="830.9" y2="711.0" stroke="#3c3c3c" stroke-width="0.85" />
<polygon points="728.0,652.0 735.8,654.4 734.0,657.5" fill="#111" stroke="none" stroke-width="0" stroke-linejoin="round" />
<polygon points="830.9,711.0 823.1,708.6 824.9,705.5" fill="#111" stroke="none" stroke-width="0" stroke-linejoin="round" />
<text transform="matrix(0.8660 0.5000 -0.8660 0.5000 781.0 669.5)" font-size="27.5" text-anchor="middle" fill="#0c0c0c" font-style="normal" dy="9.8" stroke="#0c0c0c" stroke-width="0.45">60</text>
<line x1="812.3" y1="723.0" x2="834.0" y2="711.2" stroke="#3c3c3c" stroke-width="0.85" />
<line x1="812.3" y1="743.8" x2="834.0" y2="732.3" stroke="#3c3c3c" stroke-width="0.85" />
<line x1="831.5" y1="694.0" x2="831.5" y2="766.0" stroke="#3c3c3c" stroke-width="0.85" />
<polygon points="831.5,712.3 829.6,703.8 833.4,703.8" fill="#111" stroke="none" stroke-width="0" stroke-linejoin="round" />
<polygon points="831.5,733.0 833.4,741.5 829.6,741.5" fill="#111" stroke="none" stroke-width="0" stroke-linejoin="round" />
<text transform="matrix(0.0000 1.0000 -0.8660 0.5000 843.6 757.8)" font-size="27.5" text-anchor="middle" fill="#0c0c0c" font-style="italic" dy="9.8" stroke="#0c0c0c" stroke-width="0.45">10</text>
<polygon points="585.0,734.0 703.5,667.2 707.0,667.0 805.5,723.6 807.7,726.5 716.0,800.0 700.0,800.0" fill="url(#gBolt)" stroke="#a6b2bb" stroke-width="1.6" stroke-linejoin="round" />
<polygon points="808.3,726.3 808.5,744.8 714.0,801.0 713.5,781.0" fill="#8597a2" stroke="#8597a2" stroke-width="0.8" stroke-linejoin="round" />
<path d="M586,733.5 L703.5,667 Q705.5,665.8 707.5,667 L806,723.4 Q808.3,724.8 808.4,727 L808.5,744.8 L714,801" fill="none" stroke="#71818d" stroke-width="0.9" stroke-linejoin="round" stroke-linecap="round" />
<polygon points="807.5,726.8 807.8,730.5 714.0,785.0 713.5,781.0" fill="#97a7b1" stroke="none" stroke-width="0" stroke-linejoin="round" />
<polygon points="660.0,776.0 727.5,738.5 733.5,737.8 737.6,741.2 737.6,745.2 733.0,749.5 672.0,784.0" fill="#8898a3" stroke="none" stroke-width="0" stroke-linejoin="round" />
<polygon points="668.0,779.5 730.0,744.5 735.5,747.3 676.0,782.5" fill="#b3c0c8" stroke="none" stroke-width="0" stroke-linejoin="round" />
<polygon points="727.5,738.5 733.5,737.8 737.6,741.2 737.6,745.2 733.0,749.5 730.5,744.8" fill="#94a4ae" stroke="none" stroke-width="0" stroke-linejoin="round" />
<path d="M690.5,784 C690.5,778.5 695,777.5 697.5,779.5 L700.5,782.5 L713.5,780.8 L714,801 L700,800 Z" fill="#8e9fa9" stroke="#7d8d97" stroke-width="0.7" stroke-linejoin="round" stroke-linecap="round" />
<path d="M694,781 L697,789 L697.5,799" fill="none" stroke="#75858f" stroke-width="1.1" stroke-linejoin="round" stroke-linecap="round" />
<path d="M703.5,783.5 L704,799.5 M708.5,782 L709,800" fill="none" stroke="#a9b7c0" stroke-width="1.5" stroke-linejoin="round" stroke-linecap="round" />
<polygon points="141.3,923.0 181.0,946.5 141.3,969.0" fill="url(#gInner)" stroke="none" stroke-width="0" stroke-linejoin="round" />
<polygon points="141.3,967.0 180.5,945.0 333.0,1033.0 333.0,1078.0" fill="#993350" stroke="none" stroke-width="0" stroke-linejoin="round" />
<polygon points="141.3,965.2 332.5,1076.0 332.8,1083.2 141.3,971.2" fill="#7a2840" stroke="none" stroke-width="0" stroke-linejoin="round" />
<path d="M141.3,965.6 L332.5,1076.4" fill="none" stroke="#64203a" stroke-width="1.0" stroke-linejoin="round" stroke-linecap="round" />
<path d="M185,950.5 L185,961 C186,966.5 203.5,966.5 205,961 L205,957 L193.5,950.3 Z" fill="#a9b9bd" stroke="none" stroke-width="0" stroke-linejoin="round" stroke-linecap="round" />
<path d="M185,950.5 L185,961 C185.5,964 189,965.4 192,965.6 L192,951.5 Z" fill="#c9d4d6" stroke="none" stroke-width="0" stroke-linejoin="round" stroke-linecap="round" />
<polygon points="332.0,1029.6 716.0,807.1 718.5,860.8 333.0,1083.2" fill="url(#gFront)" stroke="none" stroke-width="0" stroke-linejoin="round" />
<polygon points="332.0,1029.6 716.0,807.1 717.0,814.6 332.3,1037.2" fill="#71293d" stroke="none" stroke-width="0" stroke-linejoin="round" />
<path d="M332.3,1037.3 L717,814.8" fill="none" stroke="#551826" stroke-width="1.1" stroke-linejoin="round" stroke-linecap="round" />
<path d="M333,1076 L718.5,853.6" fill="none" stroke="#551925" stroke-width="0.9" stroke-linejoin="round" stroke-linecap="round" />
<polygon points="333.0,1076.6 718.5,854.0 718.5,860.8 333.0,1083.2" fill="#702238" stroke="none" stroke-width="0" stroke-linejoin="round" />
<polygon points="718.5,860.5 720.3,888.3 693.7,875.4 693.7,874.4" fill="#6d2136" stroke="none" stroke-width="0" stroke-linejoin="round" />
<polygon points="716.5,808.0 718.3,809.0 720.6,888.3 717.6,887.0 716.5,812.0" fill="#732338" stroke="none" stroke-width="0" stroke-linejoin="round" />
<polygon points="141.3,922.0 527.2,699.2 716.0,807.1 332.0,1029.6" fill="#7a283e" stroke="#77263b" stroke-width="1.2" stroke-linejoin="round" />
<path d="M332,1029.8999999999999 L716,807.4" fill="none" stroke="#5c1b2b" stroke-width="1.0" stroke-linejoin="round" stroke-linecap="round" />
<path d="M141.3,922 L527.2,699.2 L716,807.1" fill="none" stroke="#561827" stroke-width="1.1" stroke-linejoin="round" stroke-linecap="round" />
<path d="M141.8,924.6 L332,1032.1999999999998" fill="none" stroke="#591a29" stroke-width="3.6" stroke-linejoin="round" stroke-linecap="round" />
<path d="M332.6,1031 L333,1082.5" fill="none" stroke="#8a3048" stroke-width="1.3" stroke-linejoin="round" stroke-linecap="round" />
<path d="M328.8,1027.8 L712.8,805.5" fill="none" stroke="#6b2034" stroke-width="0.8" stroke-linejoin="round" stroke-linecap="round" />
<ellipse cx="195.4" cy="911.7" rx="7.6" ry="5.2" fill="#5d1c2b" stroke="none" stroke-width="0" transform="rotate(0 195.4 911.7)" />
<ellipse cx="195.4" cy="911.7" rx="6.5" ry="4.3" fill="#f2f3f1" stroke="none" stroke-width="0" transform="rotate(0 195.4 911.7)" />
<ellipse cx="195.4" cy="911.7" rx="4.3" ry="2.8" fill="#7d8f8b" stroke="none" stroke-width="0" transform="rotate(0 195.4 911.7)" />
<path d="M192.1,911.7 L198.7,911.7" fill="none" stroke="#dfe5e2" stroke-width="1.1" stroke-linejoin="round" stroke-linecap="round" />
<path d="M195.4,909.5 L195.4,913.9" fill="none" stroke="#55615f" stroke-width="1.0" stroke-linejoin="round" stroke-linecap="round" />
<ellipse cx="350.2" cy="1000.4" rx="7.6" ry="5.2" fill="#5d1c2b" stroke="none" stroke-width="0" transform="rotate(0 350.2 1000.4)" />
<ellipse cx="350.2" cy="1000.4" rx="6.5" ry="4.3" fill="#f2f3f1" stroke="none" stroke-width="0" transform="rotate(0 350.2 1000.4)" />
<ellipse cx="350.2" cy="1000.4" rx="4.3" ry="2.8" fill="#7d8f8b" stroke="none" stroke-width="0" transform="rotate(0 350.2 1000.4)" />
<path d="M346.9,1000.4 L353.5,1000.4" fill="none" stroke="#dfe5e2" stroke-width="1.1" stroke-linejoin="round" stroke-linecap="round" />
<path d="M350.2,998.2 L350.2,1002.6" fill="none" stroke="#55615f" stroke-width="1.0" stroke-linejoin="round" stroke-linecap="round" />
<ellipse cx="402.4" cy="808.1" rx="7.6" ry="5.2" fill="#5d1c2b" stroke="none" stroke-width="0" transform="rotate(0 402.4 808.1)" />
<ellipse cx="402.4" cy="808.1" rx="6.5" ry="4.3" fill="#f2f3f1" stroke="none" stroke-width="0" transform="rotate(0 402.4 808.1)" />
<ellipse cx="402.4" cy="808.1" rx="4.3" ry="2.8" fill="#7d8f8b" stroke="none" stroke-width="0" transform="rotate(0 402.4 808.1)" />
<path d="M399.1,808.1 L405.7,808.1" fill="none" stroke="#dfe5e2" stroke-width="1.1" stroke-linejoin="round" stroke-linecap="round" />
<path d="M402.4,805.9 L402.4,810.3" fill="none" stroke="#55615f" stroke-width="1.0" stroke-linejoin="round" stroke-linecap="round" />
<ellipse cx="534.2" cy="731.6" rx="7.6" ry="5.2" fill="#5d1c2b" stroke="none" stroke-width="0" transform="rotate(0 534.2 731.6)" />
<ellipse cx="534.2" cy="731.6" rx="6.5" ry="4.3" fill="#f2f3f1" stroke="none" stroke-width="0" transform="rotate(0 534.2 731.6)" />
<ellipse cx="534.2" cy="731.6" rx="4.3" ry="2.8" fill="#7d8f8b" stroke="none" stroke-width="0" transform="rotate(0 534.2 731.6)" />
<path d="M530.9,731.6 L537.5,731.6" fill="none" stroke="#dfe5e2" stroke-width="1.1" stroke-linejoin="round" stroke-linecap="round" />
<path d="M534.2,729.4 L534.2,733.8" fill="none" stroke="#55615f" stroke-width="1.0" stroke-linejoin="round" stroke-linecap="round" />
<ellipse cx="660.2" cy="804.6" rx="7.6" ry="5.2" fill="#5d1c2b" stroke="none" stroke-width="0" transform="rotate(0 660.2 804.6)" />
<ellipse cx="660.2" cy="804.6" rx="6.5" ry="4.3" fill="#f2f3f1" stroke="none" stroke-width="0" transform="rotate(0 660.2 804.6)" />
<ellipse cx="660.2" cy="804.6" rx="4.3" ry="2.8" fill="#7d8f8b" stroke="none" stroke-width="0" transform="rotate(0 660.2 804.6)" />
<path d="M656.9,804.6 L663.5,804.6" fill="none" stroke="#dfe5e2" stroke-width="1.1" stroke-linejoin="round" stroke-linecap="round" />
<path d="M660.2,802.4 L660.2,806.8" fill="none" stroke="#55615f" stroke-width="1.0" stroke-linejoin="round" stroke-linecap="round" />
<ellipse cx="528.2" cy="881.0" rx="7.6" ry="5.2" fill="#5d1c2b" stroke="none" stroke-width="0" transform="rotate(0 528.2 881.0)" />
<ellipse cx="528.2" cy="881.0" rx="6.5" ry="4.3" fill="#f2f3f1" stroke="none" stroke-width="0" transform="rotate(0 528.2 881.0)" />
<ellipse cx="528.2" cy="881.0" rx="4.3" ry="2.8" fill="#7d8f8b" stroke="none" stroke-width="0" transform="rotate(0 528.2 881.0)" />
<path d="M524.9,881.0 L531.5,881.0" fill="none" stroke="#dfe5e2" stroke-width="1.1" stroke-linejoin="round" stroke-linecap="round" />
<path d="M528.2,878.8 L528.2,883.2" fill="none" stroke="#55615f" stroke-width="1.0" stroke-linejoin="round" stroke-linecap="round" />
<ellipse cx="601.8" cy="801.0" rx="7.0" ry="4.8" fill="#5d1c2b" stroke="none" stroke-width="0" transform="rotate(0 601.8 801.0)" />
<ellipse cx="601.8" cy="801.0" rx="5.9" ry="3.9" fill="#eef0ec" stroke="none" stroke-width="0" transform="rotate(0 601.8 801.0)" />
<ellipse cx="602.1" cy="801.3" rx="3.6" ry="2.2" fill="#d5d9d3" stroke="none" stroke-width="0" transform="rotate(0 602.1 801.3)" />
<ellipse cx="440.1" cy="857.9" rx="7.0" ry="4.8" fill="#5d1c2b" stroke="none" stroke-width="0" transform="rotate(0 440.1 857.9)" />
<ellipse cx="440.1" cy="857.9" rx="5.9" ry="3.9" fill="#eef0ec" stroke="none" stroke-width="0" transform="rotate(0 440.1 857.9)" />
<ellipse cx="440.4" cy="858.2" rx="3.6" ry="2.2" fill="#d5d9d3" stroke="none" stroke-width="0" transform="rotate(0 440.4 858.2)" />
<ellipse cx="380.7" cy="821.4" rx="6.4" ry="4.4" fill="#5a1a2b" stroke="none" stroke-width="0" transform="rotate(0 380.7 821.4)" />
<ellipse cx="380.7" cy="821.7" rx="4.0" ry="2.6" fill="#4a1422" stroke="none" stroke-width="0" transform="rotate(0 380.7 821.7)" />
<ellipse cx="380.7" cy="822.2" rx="2.2" ry="1.2" fill="#6a2236" stroke="none" stroke-width="0" transform="rotate(0 380.7 822.2)" />
<ellipse cx="517.1" cy="722.3" rx="6.4" ry="4.4" fill="#5a1a2b" stroke="none" stroke-width="0" transform="rotate(0 517.1 722.3)" />
<ellipse cx="517.1" cy="722.6" rx="4.0" ry="2.6" fill="#4a1422" stroke="none" stroke-width="0" transform="rotate(0 517.1 722.6)" />
<ellipse cx="517.1" cy="723.1" rx="2.2" ry="1.2" fill="#6a2236" stroke="none" stroke-width="0" transform="rotate(0 517.1 723.1)" />
<ellipse cx="672.0" cy="815.0" rx="5.6" ry="3.8" fill="#4a1522" stroke="none" stroke-width="0" transform="rotate(0 672.0 815.0)" />
<path d="M668,815.3 L670.6,815.3" fill="none" stroke="#f0eeee" stroke-width="1.5" stroke-linejoin="round" stroke-linecap="round" />
<ellipse cx="674.6" cy="815.3" rx="0.9" ry="0.8" fill="#f0eeee" stroke="none" stroke-width="0" transform="rotate(0 674.6 815.3)" />
<ellipse cx="505.4" cy="892.9" rx="5.8" ry="4.0" fill="#4a1522" stroke="none" stroke-width="0" transform="rotate(0 505.4 892.9)" />
<ellipse cx="506.0" cy="893.5" rx="2.6" ry="1.7" fill="#f4f2f2" stroke="none" stroke-width="0" transform="rotate(0 506.0 893.5)" />
<path d="M580,852.6 L619,831.2" fill="none" stroke="#43131f" stroke-width="4.6" stroke-linejoin="round" stroke-linecap="round" />
<path d="M583,851.4 L593,846 M606,839 L616.5,833.2" fill="none" stroke="#d9ccd0" stroke-width="1.0" stroke-linejoin="round" stroke-linecap="round" />
<path d="M593,846.4 L597.5,841.6 L600.5,843 L605,838.6" fill="none" stroke="#a4949a" stroke-width="1.3" stroke-linejoin="round" stroke-linecap="round" />
</g>
<g id="striker-red" filter="url(#soft2)">
<line x1="804.0" y1="553.0" x2="804.0" y2="513.0" stroke="#3c3c3c" stroke-width="0.85" />
<line x1="910.5" y1="489.0" x2="910.5" y2="454.0" stroke="#3c3c3c" stroke-width="0.85" />
<line x1="804.0" y1="515.6" x2="910.5" y2="457.0" stroke="#3c3c3c" stroke-width="0.85" />
<polygon points="804.0,515.6 810.1,510.2 811.9,513.3" fill="#111" stroke="none" stroke-width="0" stroke-linejoin="round" />
<polygon points="910.5,457.0 904.4,462.4 902.6,459.3" fill="#111" stroke="none" stroke-width="0" stroke-linejoin="round" />
<text transform="matrix(0.8788 -0.4772 -0.0000 1.0000 855.0 473.5)" font-size="28" text-anchor="middle" fill="#0c0c0c" font-style="italic" dy="10.0" stroke="#0c0c0c" stroke-width="0.45">61</text>
<line x1="914.0" y1="482.0" x2="948.5" y2="463.0" stroke="#3c3c3c" stroke-width="0.85" />
<line x1="946.5" y1="464.3" x2="1137.0" y2="572.7" stroke="#3c3c3c" stroke-width="0.85" />
<polygon points="946.5,464.3 954.3,466.7 952.6,469.8" fill="#111" stroke="none" stroke-width="0" stroke-linejoin="round" />
<polygon points="1137.0,572.7 1129.2,570.3 1130.9,567.2" fill="#111" stroke="none" stroke-width="0" stroke-linejoin="round" />
<text transform="matrix(0.8660 0.5000 -0.8660 0.5000 1047.5 510.5)" font-size="26" text-anchor="middle" fill="#0c0c0c" font-style="normal" dy="9.3" stroke="#0c0c0c" stroke-width="0.45">110</text>
<line x1="1106.0" y1="597.5" x2="1140.0" y2="578.0" stroke="#3c3c3c" stroke-width="0.85" />
<line x1="1108.5" y1="641.5" x2="1140.0" y2="622.5" stroke="#3c3c3c" stroke-width="0.85" />
<line x1="1137.0" y1="572.7" x2="1137.0" y2="624.0" stroke="#3c3c3c" stroke-width="0.85" />
<polygon points="1137.0,572.7 1139.0,580.7 1135.0,580.7" fill="#111" stroke="none" stroke-width="0" stroke-linejoin="round" />
<polygon points="1137.0,623.5 1135.0,615.5 1139.0,615.5" fill="#111" stroke="none" stroke-width="0" stroke-linejoin="round" />
<text transform="matrix(0.0000 1.0000 -0.8660 0.5000 1150.5 598.0)" font-size="26" text-anchor="middle" fill="#0c0c0c" font-style="italic" dy="9.3" stroke="#0c0c0c" stroke-width="0.45">25</text>
<polygon points="997.6,656.6 1104.0,598.2 1104.0,644.5 1000.6,701.7" fill="#6a2035" stroke="none" stroke-width="0" stroke-linejoin="round" />
<polygon points="997.6,656.6 1104.0,598.2 1104.0,603.0 998.0,661.5" fill="#7c273e" stroke="none" stroke-width="0" stroke-linejoin="round" />
<polygon points="804.0,551.5 997.6,656.6 1000.6,740.6 804.0,628.0" fill="#6e2137" stroke="#6e2137" stroke-width="1.2" stroke-linejoin="round" />
<polygon points="844.6,586.0 951.0,644.3 951.0,662.6 844.6,604.2" fill="#ffffff" stroke="none" stroke-width="0" stroke-linejoin="round" />
<ellipse cx="820.6" cy="619.0" rx="3.2" ry="4.5" fill="#f6eef0" stroke="#4e1626" stroke-width="1.1" transform="rotate(-20 820.6 619.0)" />
<ellipse cx="982.6" cy="712.0" rx="3.2" ry="4.5" fill="#f6eef0" stroke="#4e1626" stroke-width="1.1" transform="rotate(-20 982.6 712.0)" />
<ellipse cx="998.3" cy="658.8" rx="1.4" ry="1.4" fill="#f0e0e6" stroke="none" stroke-width="0" transform="rotate(0 998.3 658.8)" />
<polygon points="804.0,551.5 910.5,488.7 1104.0,598.2 997.6,656.6" fill="url(#gRedS)" stroke="#8c2945" stroke-width="1.5" stroke-linejoin="round" />
<path d="M805,554.1 L997.6,659.2" fill="none" stroke="#7a2540" stroke-width="2.0" stroke-linejoin="round" stroke-linecap="round" />
<path d="M810,550.0 L1002.6,654.6" fill="none" stroke="#7c2540" stroke-width="0.9" stroke-linejoin="round" stroke-linecap="round" />
<polygon points="803.0,550.5 811.0,545.5 803.0,545.5" fill="#ffffff" stroke="none" stroke-width="0" stroke-linejoin="round" />
<rect x="910.4" y="510.0" width="18.6" height="6.6" rx="3.3" fill="#7d2540" stroke="#631b31" stroke-width="0.9" transform="rotate(-28 919.7 513.3)"/>
<rect x="859.3" y="540.7" width="18.6" height="6.6" rx="3.3" fill="#7d2540" stroke="#631b31" stroke-width="0.9" transform="rotate(-28 868.6 544.0)"/>
<rect x="1039.3" y="584.3" width="18.6" height="6.6" rx="3.3" fill="#6a1e34" stroke="#5a182a" stroke-width="0.9" transform="rotate(-28 1048.6 587.6)"/>
<rect x="985.3" y="615.7" width="18.6" height="6.6" rx="3.3" fill="#6a1e34" stroke="#5a182a" stroke-width="0.9" transform="rotate(-28 994.6 619.0)"/>
<rect x="1041.5" y="586.2" width="14" height="3.6" rx="1.8" fill="#fbf6f8" transform="rotate(-28 1048.6 588)"/>
<rect x="987.5" y="617.6" width="14" height="3.6" rx="1.8" fill="#fbf6f8" transform="rotate(-28 994.6 619.4)"/>
</g>
<g id="keys-big" filter="url(#soft2)">
<line x1="961.5" y1="842.5" x2="990.0" y2="825.5" stroke="#3c3c3c" stroke-width="0.85" />
<line x1="988.0" y1="826.0" x2="1105.0" y2="893.5" stroke="#3c3c3c" stroke-width="0.85" />
<polygon points="988.0,826.0 995.8,828.4 994.0,831.6" fill="#111" stroke="none" stroke-width="0" stroke-linejoin="round" />
<polygon points="1105.0,893.5 1097.2,891.1 1099.0,887.9" fill="#111" stroke="none" stroke-width="0" stroke-linejoin="round" />
<text transform="matrix(0.8660 0.5000 -0.8660 0.5000 1070.0 859.0)" font-size="28.5" text-anchor="middle" fill="#0c0c0c" font-style="normal" dy="10.2" stroke="#0c0c0c" stroke-width="0.45">67</text>
<line x1="1105.0" y1="893.5" x2="1141.0" y2="914.5" stroke="#3c3c3c" stroke-width="0.85" />
<polygon points="1105.0,893.5 1112.8,896.0 1111.0,899.1" fill="#111" stroke="none" stroke-width="0" stroke-linejoin="round" />
<polygon points="1141.0,914.5 1133.2,912.0 1135.0,908.9" fill="#111" stroke="none" stroke-width="0" stroke-linejoin="round" />
<text transform="matrix(0.8660 0.5000 -0.8660 0.5000 1133.0 897.5)" font-size="28" text-anchor="middle" fill="#0c0c0c" font-style="normal" dy="10.0" stroke="#0c0c0c" stroke-width="0.45">22</text>
<line x1="1067.5" y1="914.5" x2="1106.5" y2="892.0" stroke="#3c3c3c" stroke-width="0.85" />
<line x1="1102.0" y1="938.5" x2="1143.0" y2="914.5" stroke="#3c3c3c" stroke-width="0.85" />
<line x1="1081.0" y1="961.0" x2="1123.0" y2="985.0" stroke="#3c3c3c" stroke-width="0.85" />
<line x1="1102.0" y1="931.0" x2="1160.0" y2="964.5" stroke="#3c3c3c" stroke-width="0.85" />
<line x1="1121.5" y1="983.8" x2="1157.5" y2="962.8" stroke="#3c3c3c" stroke-width="0.85" />
<polygon points="1121.5,983.8 1127.5,978.2 1129.3,981.3" fill="#111" stroke="none" stroke-width="0" stroke-linejoin="round" />
<polygon points="1157.5,962.8 1151.5,968.4 1149.7,965.3" fill="#111" stroke="none" stroke-width="0" stroke-linejoin="round" />
<text transform="matrix(0.8660 -0.5000 0.8660 0.5000 1128.0 966.5)" font-size="28" text-anchor="middle" fill="#0c0c0c" font-style="normal" dy="10.0" stroke="#0c0c0c" stroke-width="0.45">23</text>
<rect x="816.8" y="885.1" width="78.0" height="33.0" rx="16.5" fill="#1c5db2" stroke="#174f99" stroke-width="1.0" transform="rotate(5 855.8 901.6)" />
<rect x="817.3" y="882.2" width="77.0" height="32.0" rx="16.0" fill="#b3b4ac" stroke="none" stroke-width="0" transform="rotate(5 855.8 898.2)" />
<rect x="845.6" y="881.3" width="23.4" height="35.0" rx="17.5" fill="#2368c0" stroke="none" stroke-width="0" transform="rotate(5 857.3 898.8)" />
<rect x="816.8" y="877.1" width="78.0" height="33.0" rx="16.5" fill="#2f80d8" stroke="#1b5cb0" stroke-width="1.1" transform="rotate(5 855.8 893.6)" />
<rect x="822.8" y="881.8" width="67.1" height="23.1" rx="11.5" fill="#3f93e6" stroke="#1b58aa" stroke-width="1.2" transform="rotate(5 856.3 893.3)" />
<rect x="841.8" y="886.4" width="45.2" height="13.2" rx="6.6" fill="#3a8ce2" stroke="#1a54a4" stroke-width="1.1" transform="rotate(5 864.4 893.0)" />
<rect x="846.4" y="890.4" width="34.3" height="5.6" rx="2.8" fill="#0f2d63" stroke="none" stroke-width="0" transform="rotate(5 863.6 893.2)" />
<rect x="833.0" y="883.1" width="20.0" height="9.0" rx="4.5" fill="#0f2d63" stroke="none" stroke-width="0" transform="rotate(2 843.0 887.6)" />
<rect x="845.5" y="868.0" width="80.0" height="33.0" rx="16.5" fill="#1c5db2" stroke="#174f99" stroke-width="1.0" transform="rotate(-3 885.5 884.5)" />
<rect x="846.0" y="865.1" width="79.0" height="32.0" rx="16.0" fill="#b3b4ac" stroke="none" stroke-width="0" transform="rotate(-3 885.5 881.1)" />
<rect x="875.0" y="864.2" width="24.0" height="35.0" rx="17.5" fill="#2368c0" stroke="none" stroke-width="0" transform="rotate(-3 887.0 881.7)" />
<rect x="845.5" y="860.0" width="80.0" height="33.0" rx="16.5" fill="#2f80d8" stroke="#1b5cb0" stroke-width="1.1" transform="rotate(-3 885.5 876.5)" />
<rect x="851.6" y="864.7" width="68.8" height="23.1" rx="11.5" fill="#3f93e6" stroke="#1b58aa" stroke-width="1.2" transform="rotate(-3 886.0 876.2)" />
<rect x="857.5" y="866.7" width="28.8" height="15.2" rx="7.6" fill="#c3c7c4" stroke="#7f8a8a" stroke-width="1.0" transform="rotate(-3 871.9 874.3)" />
<rect x="871.1" y="869.3" width="46.4" height="13.2" rx="6.6" fill="#3a8ce2" stroke="#1a54a4" stroke-width="1.1" transform="rotate(-3 894.3 875.9)" />
<rect x="875.9" y="873.3" width="35.2" height="5.6" rx="2.8" fill="#0f2d63" stroke="none" stroke-width="0" transform="rotate(-3 893.5 876.1)" />
<rect x="864.0" y="868.9" width="26.0" height="9.0" rx="4.5" fill="#0f2d63" stroke="none" stroke-width="0" transform="rotate(-5 877.0 873.4)" />
<path d="M845.9,1000.1 L858.3,1001.2 L857.4,1005.9 L865.0,1006.5 L863.5,1014.9 L857.5,1014.4 L856.4,1020.0 L861.4,1020.4 L860.0,1027.9 L853.1,1027.3 L852.0,1032.9 L856.0,1033.3 L855.2,1037.9 L839.2,1036.5 Z" fill="#979e9e" stroke="#737b7b" stroke-width="0.9" stroke-linejoin="round" stroke-linecap="round" />
<path d="M845.9,997.1 L858.3,998.2 L857.4,1002.9 L865.0,1003.5 L863.5,1011.9 L857.5,1011.4 L856.4,1017.0 L861.4,1017.4 L860.0,1024.9 L853.1,1024.3 L852.0,1029.9 L856.0,1030.3 L855.2,1034.9 L839.2,1033.5 Z" fill="#c6cbcb" stroke="#7c8585" stroke-width="0.9" stroke-linejoin="round" stroke-linecap="round" />
<path d="M834.8,999.1 L821.2,997.9 L820.3,1002.6 L812.0,1001.9 L810.5,1010.3 L817.0,1010.9 L816.0,1016.5 L810.5,1016.0 L809.1,1023.5 L816.8,1024.1 L815.8,1029.7 L811.4,1029.4 L810.5,1034.0 L828.1,1035.6 Z" fill="#979e9e" stroke="#737b7b" stroke-width="0.9" stroke-linejoin="round" stroke-linecap="round" />
<path d="M834.8,996.1 L821.2,994.9 L820.3,999.6 L812.0,998.9 L810.5,1007.3 L817.0,1007.9 L816.0,1013.5 L810.5,1013.0 L809.1,1020.5 L816.8,1021.1 L815.8,1026.7 L811.4,1026.4 L810.5,1031.0 L828.1,1032.6 Z" fill="#c6cbcb" stroke="#7c8585" stroke-width="0.9" stroke-linejoin="round" stroke-linecap="round" />
<path d="M856.7,908.0 L833.1,1036.0" fill="none" stroke="#c9cecd" stroke-width="11.2" stroke-linejoin="round" stroke-linecap="round" stroke-linecap="butt"/>
<path d="M856.7,908.0 L833.1,1036.0" fill="none" stroke="#d8dcdb" stroke-width="7.799999999999999" stroke-linejoin="round" stroke-linecap="round" />
<path d="M834.4,995.1 L826.9,1035.5" fill="none" stroke="#7f8888" stroke-width="0.9" stroke-linejoin="round" stroke-linecap="round" />
<path d="M846.7,996.2 L839.3,1036.5" fill="none" stroke="#7f8888" stroke-width="0.9" stroke-linejoin="round" stroke-linecap="round" />
<ellipse cx="832.8" cy="1037.5" rx="5.2" ry="4.9" fill="#b9bfbf" stroke="#7c8585" stroke-width="0.9" transform="rotate(0 832.8 1037.5)" />
<ellipse cx="832.6" cy="1039.7" rx="1.6" ry="1.4" fill="#8a9292" stroke="none" stroke-width="0" transform="rotate(0 832.6 1039.7)" />
<rect x="883.6" y="841.5" width="76.0" height="35.0" rx="17.5" fill="#1c5db2" stroke="#174f99" stroke-width="1.0" transform="rotate(-20 921.6 859.0)" />
<rect x="884.1" y="838.6" width="75.0" height="34.0" rx="17.0" fill="#b3b4ac" stroke="none" stroke-width="0" transform="rotate(-20 921.6 855.6)" />
<rect x="911.7" y="837.7" width="22.8" height="37.0" rx="18.5" fill="#2368c0" stroke="none" stroke-width="0" transform="rotate(-20 923.1 856.2)" />
<rect x="883.6" y="833.5" width="76.0" height="35.0" rx="17.5" fill="#2f80d8" stroke="#1b5cb0" stroke-width="1.1" transform="rotate(-20 921.6 851.0)" />
<rect x="889.4" y="838.5" width="65.4" height="24.5" rx="12.2" fill="#3f93e6" stroke="#1b58aa" stroke-width="1.2" transform="rotate(-20 922.1 850.7)" />
<rect x="895.0" y="840.8" width="27.4" height="16.1" rx="8.1" fill="#c3c7c4" stroke="#7f8a8a" stroke-width="1.0" transform="rotate(-20 908.7 848.8)" />
<rect x="907.9" y="843.4" width="44.1" height="14.0" rx="7.0" fill="#3a8ce2" stroke="#1a54a4" stroke-width="1.1" transform="rotate(-20 930.0 850.4)" />
<rect x="912.5" y="847.6" width="33.4" height="6.0" rx="3.0" fill="#0f2d63" stroke="none" stroke-width="0" transform="rotate(-20 929.2 850.6)" />
<text transform="translate(929.2 850.8) rotate(-20)" font-size="4.4" font-weight="bold" font-style="italic" text-anchor="middle" dy="1.5" fill="#2a62b8" textLength="27.4" lengthAdjust="spacingAndGlyphs">SECUREMME</text>
<path d="M946.4,978.0 L959.0,974.9 L961.3,979.3 L969.0,977.4 L973.1,985.4 L967.0,986.9 L969.7,992.3 L974.8,991.0 L978.4,998.1 L971.3,999.9 L974.0,1005.3 L978.1,1004.3 L980.4,1008.7 L964.1,1012.8 Z" fill="#979e9e" stroke="#737b7b" stroke-width="0.9" stroke-linejoin="round" stroke-linecap="round" />
<path d="M946.4,975.0 L959.0,971.9 L961.3,976.3 L969.0,974.4 L973.1,982.4 L967.0,983.9 L969.7,989.3 L974.8,988.0 L978.4,995.1 L971.3,996.9 L974.0,1002.3 L978.1,1001.3 L980.4,1005.7 L964.1,1009.8 Z" fill="#c6cbcb" stroke="#7c8585" stroke-width="0.9" stroke-linejoin="round" stroke-linecap="round" />
<path d="M935.5,980.7 L923.5,983.7 L925.8,988.2 L918.4,990.0 L922.5,998.0 L928.3,996.6 L931.0,1001.9 L926.2,1003.1 L929.8,1010.3 L936.6,1008.6 L939.3,1013.9 L935.4,1014.9 L937.7,1019.4 L953.2,1015.5 Z" fill="#979e9e" stroke="#737b7b" stroke-width="0.9" stroke-linejoin="round" stroke-linecap="round" />
<path d="M935.5,977.7 L923.5,980.7 L925.8,985.2 L918.4,987.0 L922.5,995.0 L928.3,993.6 L931.0,998.9 L926.2,1000.1 L929.8,1007.3 L936.6,1005.6 L939.3,1010.9 L935.4,1011.9 L937.7,1016.4 L953.2,1012.5 Z" fill="#c6cbcb" stroke="#7c8585" stroke-width="0.9" stroke-linejoin="round" stroke-linecap="round" />
<path d="M897.0,890.0 L960.0,1013.8" fill="none" stroke="#c9cecd" stroke-width="11.2" stroke-linejoin="round" stroke-linecap="round" stroke-linecap="butt"/>
<path d="M897.0,890.0 L960.0,1013.8" fill="none" stroke="#d8dcdb" stroke-width="7.799999999999999" stroke-linejoin="round" stroke-linecap="round" />
<path d="M934.5,977.0 L954.0,1015.3" fill="none" stroke="#7f8888" stroke-width="0.9" stroke-linejoin="round" stroke-linecap="round" />
<path d="M946.5,974.0 L966.0,1012.3" fill="none" stroke="#7f8888" stroke-width="0.9" stroke-linejoin="round" stroke-linecap="round" />
<ellipse cx="960.7" cy="1015.1" rx="5.2" ry="4.9" fill="#b9bfbf" stroke="#7c8585" stroke-width="0.9" transform="rotate(0 960.7 1015.1)" />
<ellipse cx="961.1" cy="1017.2" rx="1.6" ry="1.4" fill="#8a9292" stroke="none" stroke-width="0" transform="rotate(0 961.1 1017.2)" />
<path d="M1057.8,926.1 L1068.2,919.3 L1073.2,922.1 L1079.5,918.0 L1088.5,923.1 L1083.5,926.4 L1089.5,929.8 L1093.7,927.1 L1101.7,931.6 L1095.8,935.4 L1101.8,938.8 L1105.2,936.6 L1110.2,939.5 L1096.8,948.2 Z" fill="#979e9e" stroke="#737b7b" stroke-width="0.9" stroke-linejoin="round" stroke-linecap="round" />
<path d="M1057.8,923.1 L1068.2,916.3 L1073.2,919.1 L1079.5,915.0 L1088.5,920.1 L1083.5,923.4 L1089.5,926.8 L1093.7,924.1 L1101.7,928.6 L1095.8,932.4 L1101.8,935.8 L1105.2,933.6 L1110.2,936.5 L1096.8,945.2 Z" fill="#c6cbcb" stroke="#7c8585" stroke-width="0.9" stroke-linejoin="round" stroke-linecap="round" />
<path d="M1048.4,932.2 L1041.6,936.6 L1046.6,939.4 L1042.5,942.1 L1051.5,947.2 L1054.7,945.1 L1060.7,948.5 L1058.0,950.2 L1066.0,954.8 L1069.8,952.3 L1075.8,955.7 L1073.7,957.1 L1078.7,959.9 L1087.4,954.3 Z" fill="#979e9e" stroke="#737b7b" stroke-width="0.9" stroke-linejoin="round" stroke-linecap="round" />
<path d="M1048.4,929.2 L1041.6,933.6 L1046.6,936.4 L1042.5,939.1 L1051.5,944.2 L1054.7,942.1 L1060.7,945.5 L1058.0,947.2 L1066.0,951.8 L1069.8,949.3 L1075.8,952.7 L1073.7,954.1 L1078.7,956.9 L1087.4,951.3 Z" fill="#c6cbcb" stroke="#7c8585" stroke-width="0.9" stroke-linejoin="round" stroke-linecap="round" />
<path d="M939.0,861.5 L1094.7,949.7" fill="none" stroke="#c9cecd" stroke-width="11.2" stroke-linejoin="round" stroke-linecap="round" stroke-linecap="butt"/>
<path d="M939.0,861.5 L1094.7,949.7" fill="none" stroke="#d8dcdb" stroke-width="7.799999999999999" stroke-linejoin="round" stroke-linecap="round" />
<path d="M1046.9,928.9 L1089.5,953.1" fill="none" stroke="#7f8888" stroke-width="0.9" stroke-linejoin="round" stroke-linecap="round" />
<path d="M1057.3,922.2 L1099.9,946.3" fill="none" stroke="#7f8888" stroke-width="0.9" stroke-linejoin="round" stroke-linecap="round" />
<ellipse cx="1096.0" cy="950.4" rx="5.2" ry="4.9" fill="#b9bfbf" stroke="#7c8585" stroke-width="0.9" transform="rotate(0 1096.0 950.4)" />
<ellipse cx="1096.9" cy="952.1" rx="1.6" ry="1.4" fill="#8a9292" stroke="none" stroke-width="0" transform="rotate(0 1096.9 952.1)" />
</g>
</svg>
</body></html>
